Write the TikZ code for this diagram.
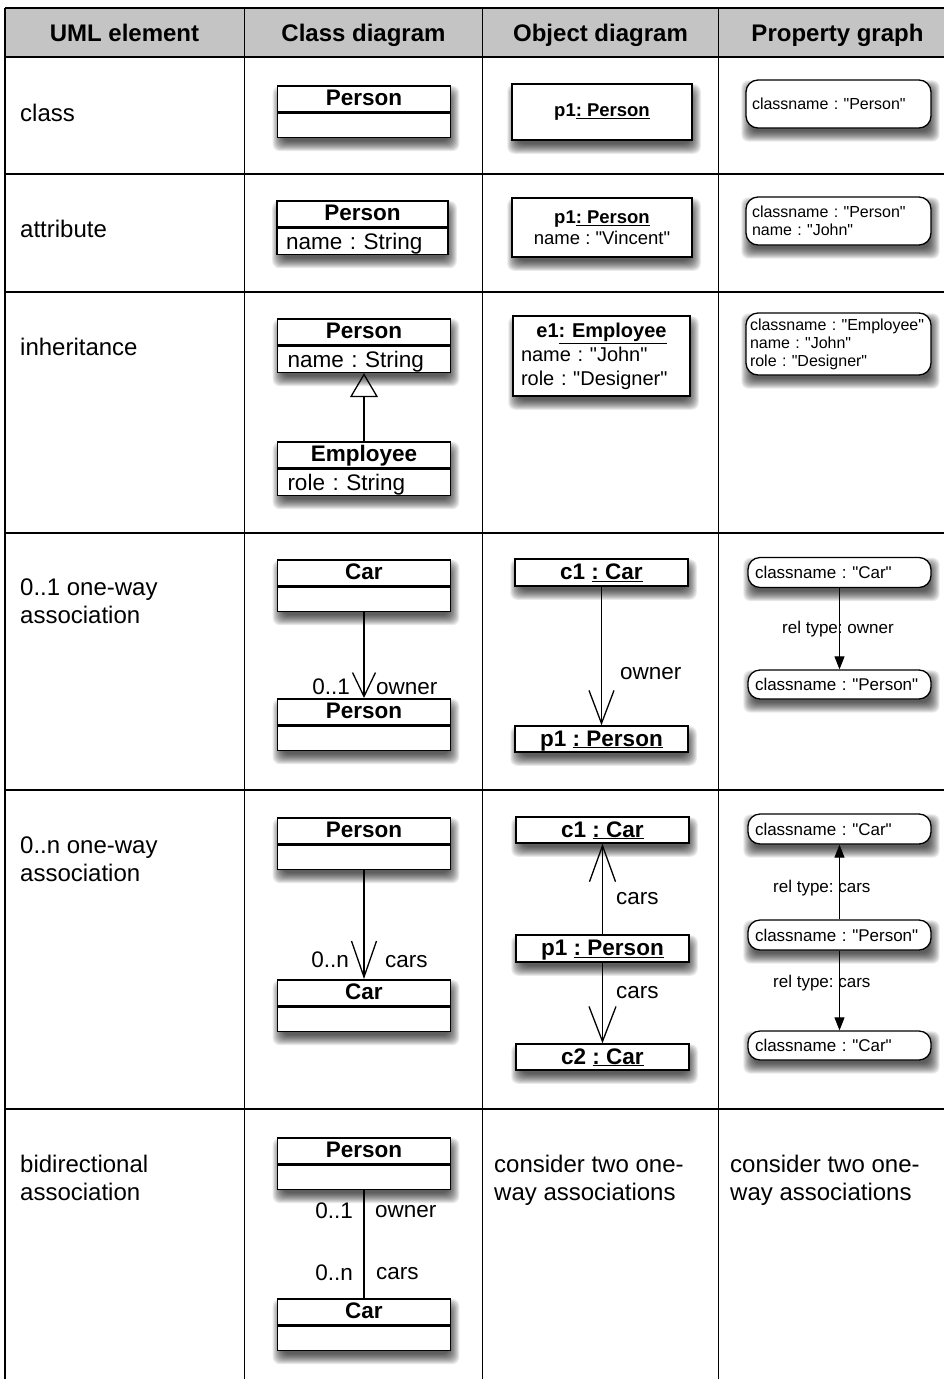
\documentclass[tikz,border=0pt]{standalone}
\usepackage{fontspec}
\setmainfont{Liberation Sans}[Ligatures=TeXOff]
\usetikzlibrary{arrows.meta,calc}
\definecolor{hdrgray}{RGB}{196,196,196}
\pgfdeclarelayer{bg}
\pgfdeclarelayer{shadowlayer}
\pgfsetlayers{bg,shadowlayer,main}
\frenchspacing

\newcommand\fsz[2]{\fontsize{#1}{#2}\selectfont}
% soft drop shadow under the box spanned by two anchors
\newcommand\dropshade[2]{%
  \begin{pgfonlayer}{shadowlayer}
    \foreach \e in {-4,...,6}{%
      \fill[black,opacity=0.085,rounded corners=7pt]
        ($(#1)+(2-\e,7-\e)$) rectangle ($(#2)+(2+\e,7+\e)$);
    }
  \end{pgfonlayer}}

\tikzset{
  tablerule/.style={line width=1.8pt},
  hdr/.style={font=\bfseries\fsz{24}{28}, inner sep=0pt, anchor=base},
  lefttxt/.style={font=\fsz{24}{28}, anchor=base west, inner sep=0pt},
  clshead/.style={draw, line width=1.6pt, fill=white, minimum width=173pt,
    minimum height=26pt, inner sep=0pt, anchor=north,
    font=\bfseries\fsz{22.5}{26}, text height=16pt, text depth=2pt},
  clsbody/.style={draw, line width=1.6pt, fill=white, minimum width=173pt,
    minimum height=24pt, inner sep=0pt, anchor=north, font=\fsz{22.5}{26},
    text width=153pt, align=left, text height=16pt, text depth=0pt},
  objbox/.style={draw, line width=1.5pt, fill=white, inner sep=0pt},
  objref/.style={objbox, minimum width=173pt, font=\bfseries\fsz{22.5}{26},
    text height=16pt, text depth=2pt},
  pgnode/.style={draw, line width=1.3pt, fill=white, rounded corners=12pt,
    inner sep=0pt, align=left},
  lbl/.style={font=\fsz{22.5}{26}, inner sep=0pt},
  pglbl/.style={font=\fsz{17}{20}, inner sep=0pt, anchor=base west},
  inherit/.style={line width=1.3pt, -{Triangle[open, length=24pt, width=28pt]}},
  plainline/.style={line width=1.3pt},
  pgarrow/.style={line width=1pt, -{Triangle[length=13pt, width=10pt]}},
}

\begin{document}
\begin{tikzpicture}[x=1pt,y=-1pt]
\useasboundingbox (0,0) rectangle (943,1379);

% header band and table rules
\begin{pgfonlayer}{bg}
  \fill[hdrgray] (5,8) rectangle (960,57);
\end{pgfonlayer}
\foreach \yy in {8,57,174,292,533,790,1109}
  \draw[tablerule] (5,\yy) -- (960,\yy);
\foreach \xx in {5,244.5,482.5,718.5}
  \draw[tablerule] (\xx,8) -- (\xx,1390);

% column headers
\node[hdr] (h1) at (124.5,41) {UML element};
\node[hdr] (h2) at (363.5,41) {Class diagram};
\node[hdr] (h3) at (600.5,41) {Object diagram};
\node[hdr] (h4) at (837.5,41) {Property graph};

% first column
\node[lefttxt] (e1) at (20,121) {class};
\node[lefttxt] (e2) at (20,237) {attribute};
\node[lefttxt] (e3) at (20,355) {inheritance};
\node[lefttxt] (e4a) at (20,595) {0..1 one-way};
\node[lefttxt] (e4b) at (20,623) {association};
\node[lefttxt] (e5a) at (20,853) {0..n one-way};
\node[lefttxt] (e5b) at (20,881) {association};
\node[lefttxt] (e6a) at (20,1172) {bidirectional};
\node[lefttxt] (e6b) at (20,1200) {association};

% ---------- class diagrams ----------
\node[clshead] (k1h) at (364,85) {Person};
\node[clsbody] (k1b) at (k1h.south) {};
\dropshade{k1h.north west}{k1b.south east}

\node[clshead, minimum width=171pt] (k2h) at (362.5,200) {Person};
\node[clsbody, minimum width=171pt, minimum height=26pt] (k2b) at (k2h.south) {name : String};
\dropshade{k2h.north west}{k2b.south east}

\node[clshead] (k3h) at (364,318) {Person};
\node[clsbody, minimum height=26pt] (k3b) at (k3h.south) {name : String};
\node[clshead] (k3e) at (364,441) {Employee};
\node[clsbody, minimum height=26pt] (k3f) at (k3e.south) {role : String};
\dropshade{k3h.north west}{k3b.south east}
\dropshade{k3e.north west}{k3f.south east}
\draw[inherit] (k3e.north) -- (k3b.south);

\node[clshead] (k4h) at (364,559) {Car};
\node[clsbody] (k4b) at (k4h.south) {};
\node[clshead] (k4p) at (364,698) {Person};
\node[clsbody] (k4q) at (k4p.south) {};
\dropshade{k4h.north west}{k4b.south east}
\dropshade{k4p.north west}{k4q.south east}
\draw[line width=1.3pt, -{Straight Barb[length=24pt, width=23pt]}] (k4b.south) -- (k4p.north);
\node[lbl, anchor=base east] (k4m) at (350,694) {0..1};
\node[lbl, anchor=base west] (k4r) at (376,694) {owner};

\node[clshead] (k5h) at (364,817) {Person};
\node[clsbody] (k5b) at (k5h.south) {};
\node[clshead] (k5c) at (364,979) {Car};
\node[clsbody] (k5d) at (k5c.south) {};
\dropshade{k5h.north west}{k5b.south east}
\dropshade{k5c.north west}{k5d.south east}
\draw[line width=1.3pt, -{Straight Barb[length=36pt, width=25pt]}] (k5b.south) -- (k5c.north);
\node[lbl, anchor=base east] (k5m) at (349,967) {0..n};
\node[lbl, anchor=base west] (k5r) at (385,967) {cars};

\node[clshead] (k6h) at (364,1137) {Person};
\node[clsbody] (k6b) at (k6h.south) {};
\node[clshead] (k6c) at (364,1298) {Car};
\node[clsbody] (k6d) at (k6c.south) {};
\dropshade{k6h.north west}{k6b.south east}
\dropshade{k6c.north west}{k6d.south east}
\draw[plainline] (k6b.south) -- (k6c.north);
\node[lbl, anchor=base east] (k6m) at (353,1218) {0..1};
\node[lbl, anchor=base west] (k6r) at (375,1217) {owner};
\node[lbl, anchor=base east] (k6n) at (353,1280) {0..n};
\node[lbl, anchor=base west] (k6s) at (376,1279) {cars};

% ---------- object diagrams ----------
\node[objbox, minimum width=180pt, minimum height=56pt, font=\bfseries\fsz{18.5}{21}]
  (o1) at (602,112) {p1\underline{: Person}};
\dropshade{o1.north west}{o1.south east}

\node[objbox, minimum width=180pt, minimum height=59pt, align=center, font=\fsz{18.5}{21}]
  (o2) at (602,227.5) {{\bfseries p1\underline{: Person}}\\name : "Vincent"};
\dropshade{o2.north west}{o2.south east}

\node[objbox, minimum width=177pt, minimum height=80pt, align=left, text width=161pt, font=\fsz{20}{24}]
  (o3) at (601.5,356) {\makebox[161pt][c]{\bfseries e1\underline{: Employee}}\\name : "John"\\role : "Designer"};
\dropshade{o3.north west}{o3.south east}

\node[objref, minimum height=27pt] (o4a) at (601.5,572.5) {c1 \underline{: Car}};
\node[objref, minimum height=26pt] (o4b) at (601.5,739) {p1 \underline{: Person}};
\dropshade{o4a.north west}{o4a.south east}
\dropshade{o4b.north west}{o4b.south east}
\draw[line width=1.3pt, -{Straight Barb[length=33pt, width=25pt]}] (o4a.south) -- (o4b.north);
\node[lbl, anchor=base west] (o4l) at (620,679) {owner};

\node[objref, minimum height=26pt] (o5a) at (602.5,830) {c1 \underline{: Car}};
\node[objref, minimum height=27pt] (o5b) at (602.5,948.5) {p1 \underline{: Person}};
\node[objref, minimum height=26pt] (o5c) at (602.5,1057) {c2 \underline{: Car}};
\dropshade{o5a.north west}{o5a.south east}
\dropshade{o5b.north west}{o5b.south east}
\dropshade{o5c.north west}{o5c.south east}
\draw[line width=1.3pt, -{Straight Barb[length=36pt, width=26pt]}] (o5b.north) -- (o5a.south);
\draw[line width=1.3pt, -{Straight Barb[length=35pt, width=27pt]}] (o5b.south) -- (o5c.north);
\node[lbl, anchor=base west] (o5l) at (616,904) {cars};
\node[lbl, anchor=base west] (o5m) at (616,998) {cars};

\node[lefttxt] (o6a) at (494,1172) {consider two one-};
\node[lefttxt] (o6b) at (494,1200) {way associations};

% ---------- property graphs ----------
\node[pgnode, minimum width=185pt, minimum height=48pt, text width=173pt, font=\fsz{16}{18}]
  (g1) at (838.5,104) {classname : "Person"};
\dropshade{g1.north west}{g1.south east}

\node[pgnode, minimum width=185pt, minimum height=48pt, text width=173pt, font=\fsz{16}{18}]
  (g2) at (838.5,221) {classname : "Person"\\name : "John"};
\dropshade{g2.north west}{g2.south east}

\node[pgnode, minimum width=185pt, minimum height=62pt, text width=177pt, font=\fsz{16}{18}]
  (g3) at (838.5,344) {classname : "Employee"\\name : "John"\\role : "Designer"};
\dropshade{g3.north west}{g3.south east}

\tikzset{pgsmall/.style={pgnode, minimum width=183pt, minimum height=30pt, text width=169pt, font=\fsz{17}{20}}}
\node[pgsmall] (g4a) at (839.5,572.5) {classname : "Car"};
\node[pgsmall, minimum height=29pt] (g4b) at (839.5,684.5) {classname : "Person"};
\dropshade{g4a.north west}{g4a.south east}
\dropshade{g4b.north west}{g4b.south east}
\draw[pgarrow] (g4a.south) -- (g4b.north);
\node[pglbl] (g4l) at (782,633) {rel type: owner};

\node[pgsmall] (g5a) at (839.5,829) {classname : "Car"};
\node[pgsmall] (g5b) at (839.5,935) {classname : "Person"};
\node[pgsmall, minimum height=29pt] (g5c) at (839.5,1045.5) {classname : "Car"};
\dropshade{g5a.north west}{g5a.south east}
\dropshade{g5b.north west}{g5b.south east}
\dropshade{g5c.north west}{g5c.south east}
\draw[pgarrow] (g5b.north) -- (g5a.south);
\draw[pgarrow] (g5b.south) -- (g5c.north);
\node[pglbl] (g5l) at (773,892) {rel type: cars};
\node[pglbl] (g5m) at (773,987) {rel type: cars};

\node[lefttxt] (g6a) at (730,1172) {consider two one-};
\node[lefttxt] (g6b) at (730,1200) {way associations};
\end{tikzpicture}
\end{document}
